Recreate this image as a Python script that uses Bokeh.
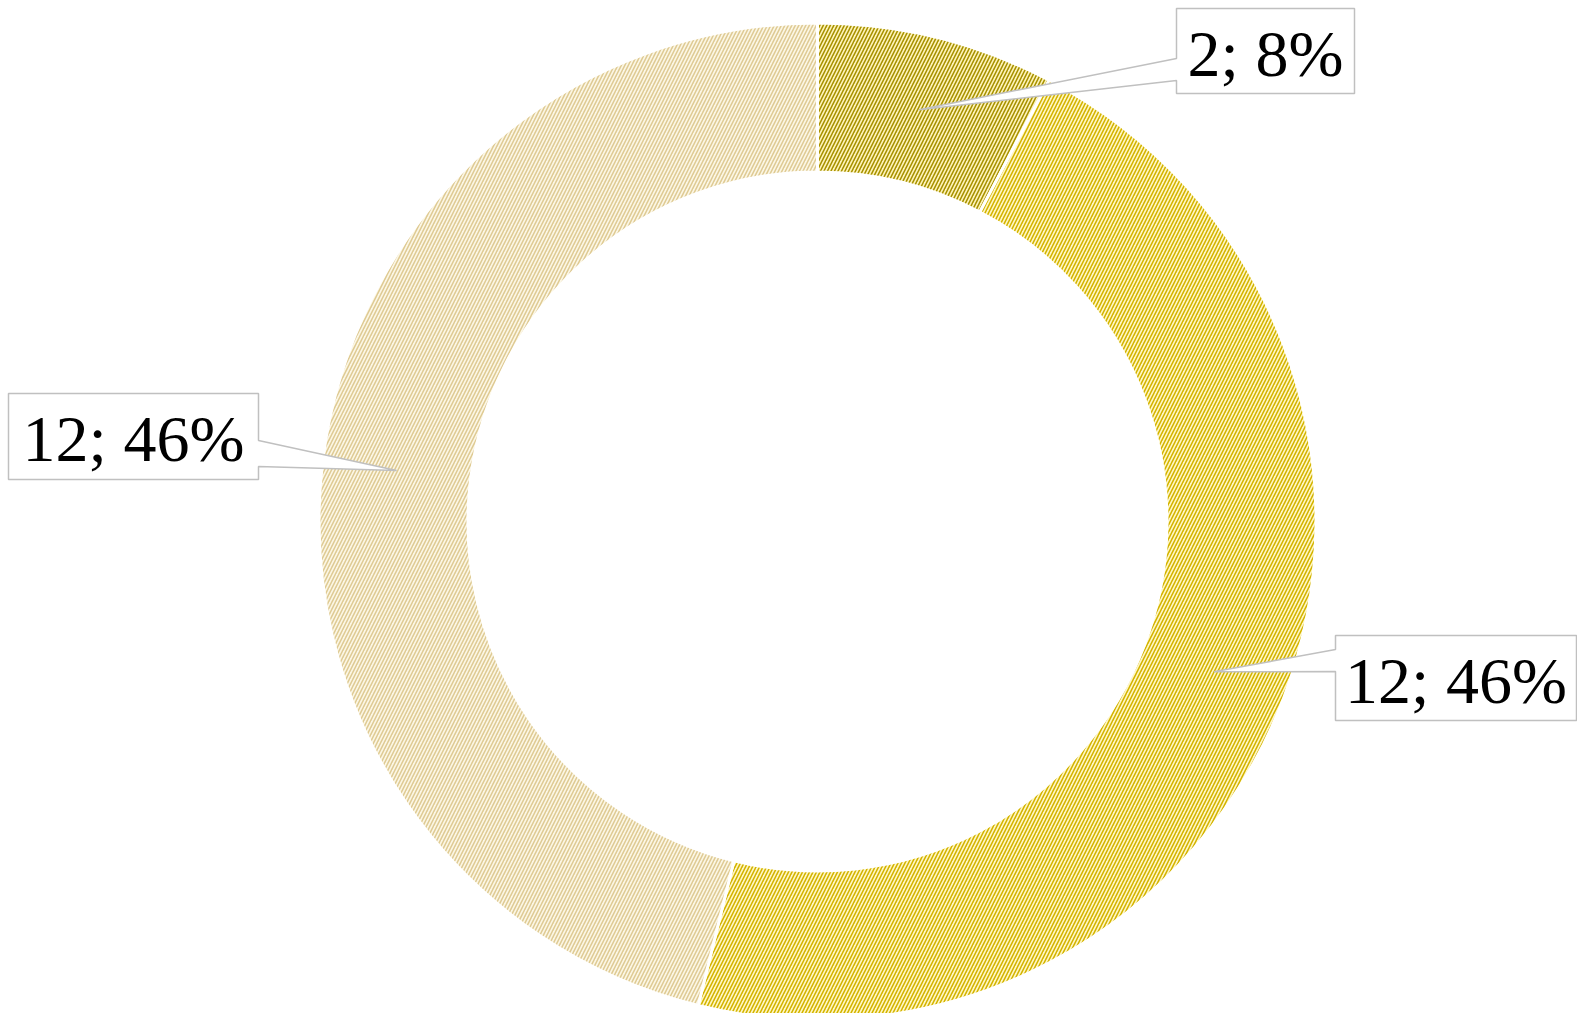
import math
from bokeh.plotting import figure
from bokeh.models import ColumnDataSource, Range1d
from bokeh.core.properties import value
from bokeh.embed import file_html
from bokeh.resources import INLINE

# ---- data ----
values = [2, 12, 12]
fill_colors = ["#fff4bc", "#fff7c8", "#fcf7e6"]
hatch_colors = ["#a89200", "#d4b400", "#dfcb94"]

total = sum(values)
labels = [f"{v}; {round(100 * v / total)}%" for v in values]

# ---- layout (page pixel coords) ----
W, H = 1577, 1013
OX, OY = 0, 0          # page position of the figure's top-left corner
PAGE_H = 1021
CX, CY_PAGE = 817, 521
R_OUT, R_IN = 498.5, 349.5
R_TIP = 424

# label boxes: (x0, y0, x1, y1, side, base_top, base_bottom) in page coords
boxes = [
    (1176, 8, 1354, 93, "left", 58, 80),
    (1335, 635, 1576, 720, "left", 649, 671),
    (8, 393, 258, 479, "right", 440, 466),
]


def dy(py):
    return PAGE_H - py


p = figure(width=W, height=H, output_backend="svg", toolbar_location=None,
           x_range=Range1d(OX, OX + W), y_range=Range1d(dy(OY + H), dy(OY)),
           min_border=0, border_fill_color="white", background_fill_color="white")
p.axis.visible = False
p.grid.visible = False
p.outline_line_color = None

# wedge angles, clockwise from the top
starts, ends, mids = [], [], []
cum = 0.0
for v in values:
    a0 = math.pi / 2 - 2 * math.pi * cum / total
    cum += v
    a1 = math.pi / 2 - 2 * math.pi * cum / total
    starts.append(a0)
    ends.append(a1)
    mids.append((a0 + a1) / 2)

src = ColumnDataSource(dict(
    x=[CX] * len(values), y=[dy(CY_PAGE)] * len(values),
    start=starts, end=ends, fill=fill_colors, hatch=hatch_colors,
))
p.annular_wedge(x="x", y="y", inner_radius=R_IN, outer_radius=R_OUT,
                start_angle="start", end_angle="end", direction="clock",
                fill_color="fill", hatch_color="hatch", hatch_pattern="/",
                hatch_scale=7, hatch_weight=1.6,
                line_color="white", line_width=3, source=src)

# callouts
xs, ys, tx, ty = [], [], [], []
for (x0, y0, x1, y1, side, bt, bb), m in zip(boxes, mids):
    tipx = CX + R_TIP * math.cos(m)
    tipy = dy(CY_PAGE) + R_TIP * math.sin(m)
    if side == "left":
        px = [x0, x1, x1, x0, x0, tipx, x0]
        py = [dy(y0), dy(y0), dy(y1), dy(y1), dy(bb), tipy, dy(bt)]
    else:
        px = [x0, x1, x1, tipx, x1, x1, x0]
        py = [dy(y0), dy(y0), dy(bt), tipy, dy(bb), dy(y1), dy(y1)]
    xs.append(px)
    ys.append(py)
    tx.append((x0 + x1) / 2)
    ty.append(dy((y0 + y1) / 2 + 2))

p.patches(xs=xs, ys=ys, fill_color="white", line_color="#c0c0c0", line_width=1.5)
p.text(x=tx, y=ty, text=labels, text_font=value("Liberation Serif"),
       text_font_size="66px", text_align="center", text_baseline="middle",
       text_color="black")

open("out.html", "w").write(file_html(p, INLINE))
